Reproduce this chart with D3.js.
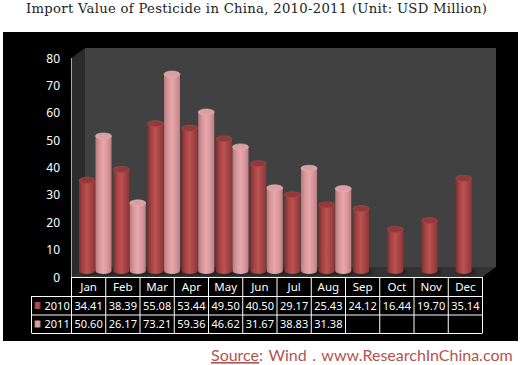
<!DOCTYPE html>
<html lang="en">
<head>
    <meta charset="UTF-8">
    <title>Import Value of Pesticide in China, 2010-2011</title>
    <script src="https://d3js.org/d3.v7.min.js"></script>
    <style>
        body { margin: 0; padding: 0; background: #fff; }
        svg { display: block; }
    </style>
</head>
<body>
    <script>
        // Data
        var months = ["Jan", "Feb", "Mar", "Apr", "May", "Jun", "Jul", "Aug", "Sep", "Oct", "Nov", "Dec"];
        var years = ["2010", "2011"];
        var values2010 = [34.41, 38.39, 55.08, 53.44, 49.50, 40.50, 29.17, 25.43, 24.12, 16.44, 19.70, 35.14];
        var values2011 = [50.60, 26.17, 73.21, 59.36, 46.62, 31.67, 38.83, 31.38, null, null, null, null];
        var yTicks = [0, 10, 20, 30, 40, 50, 60, 70, 80];

        var width = 521, height = 365;
        var tableFont = "'Noto Sans', sans-serif";

        var svg = d3.select("body").append("svg")
            .attr("width", width)
            .attr("height", height);

        // Plot frame: front edge of the 3D box, depth offset goes up and right
        var plotLeft = 71.5, plotRight = 482.5, plotTop = 58, plotBottom = 277;
        var depthX = 13.5, depthY = 10;
        var rowY = [277, 296, 314.5, 333];
        var legendLeft = 31.5;

        var x = d3.scaleBand().domain(months).range([plotLeft, plotRight]);
        var y = d3.scaleLinear().domain([0, 80]).range([plotBottom, plotTop]);
        var inner = d3.scaleBand().domain(years).range([0, 33]);

        // Colours for the cylinders
        var palette = {
            "2010": { stops: ["#7d2f2f", "#a84444", "#bb5252", "#a54343", "#8a3636"], cap: "#93393a", rim: "#b04a4a" },
            "2011": { stops: ["#b57a7c", "#d9979b", "#e6a8ac", "#d9979b", "#b98084"], cap: "#d9a0a3", rim: "#e8b4b6" }
        };

        var defs = svg.append("defs");
        years.forEach(function(yr) {
            var g = defs.append("linearGradient").attr("id", "bar" + yr);
            palette[yr].stops.forEach(function(c, i) {
                g.append("stop").attr("offset", (i * 25) + "%").attr("stop-color", c);
            });
        });
        var shadow = defs.append("filter").attr("id", "blur").attr("x", "-30%").attr("width", "160%");
        shadow.append("feGaussianBlur").attr("stdDeviation", 1.5);

        // Title
        svg.append("text")
            .attr("x", 256.5).attr("y", 13)
            .attr("text-anchor", "middle")
            .attr("font-family", "'DejaVu Serif', serif")
            .attr("font-size", 13.2)
            .attr("textLength", 461)
            .attr("fill", "#222")
            .text("Import Value of Pesticide in China, 2010-2011 (Unit: USD Million)");

        // Black background
        svg.append("rect").attr("x", 3).attr("y", 32).attr("width", 515).attr("height", 309).attr("fill", "#000");

        // Back wall, side wall and floor
        svg.append("rect")
            .attr("x", plotLeft + depthX).attr("y", plotTop - depthY)
            .attr("width", plotRight - plotLeft).attr("height", plotBottom - plotTop)
            .attr("fill", "#414141");
        svg.append("path")
            .attr("d", d3.line()([[plotLeft, plotTop], [plotLeft + depthX, plotTop - depthY], [plotLeft + depthX, plotBottom - depthY], [plotLeft, plotBottom]]))
            .attr("fill", "#2b2b2b");
        svg.append("path")
            .attr("d", d3.line()([[plotLeft, plotBottom], [plotLeft + depthX, plotBottom - depthY], [plotRight + depthX, plotBottom - depthY], [plotRight, plotBottom]]))
            .attr("fill", "#333333");

        // Axis line + tick labels
        svg.append("line")
            .attr("x1", plotLeft).attr("x2", plotLeft).attr("y1", plotTop).attr("y2", plotBottom)
            .attr("stroke", "#a8a8a8").attr("stroke-width", 1);

        svg.selectAll(".ytick").data(yTicks).join("text")
            .attr("class", "ytick")
            .attr("x", 60).attr("y", function(d) { return y(d) + 4.5; })
            .attr("text-anchor", "end")
            .attr("font-family", tableFont)
            .attr("font-size", 12)
            .attr("fill", "#fff")
            .text(function(d) { return d; });

        // Cylinders
        var rx = 8, ry = 3;
        var bars = [];
        months.forEach(function(m, i) {
            bars.push({ month: m, year: "2010", value: values2010[i] });
            if (values2011[i] !== null) bars.push({ month: m, year: "2011", value: values2011[i] });
        });
        function barX(d) { return x(d.month) + 7.5 + inner(d.year) + rx; }
        var baseTop = -2.5, baseBottom = -6;

        var barG = svg.selectAll(".bar").data(bars).join("g").attr("class", "bar");
        barG.append("ellipse")
            .attr("cx", function(d) { return barX(d) + 3; })
            .attr("cy", plotBottom + baseBottom + 1)
            .attr("rx", rx + 1).attr("ry", ry)
            .attr("fill", "#1d1d1d")
            .attr("filter", "url(#blur)");
        barG.append("path")
            .attr("d", function(d) {
                var cx = barX(d), t = y(d.value) + baseTop, b = plotBottom + baseBottom;
                return "M" + (cx - rx) + "," + t + "L" + (cx - rx) + "," + b +
                    "A" + rx + "," + ry + " 0 0 0 " + (cx + rx) + "," + b +
                    "L" + (cx + rx) + "," + t + "Z";
            })
            .attr("fill", function(d) { return "url(#bar" + d.year + ")"; });
        barG.append("ellipse")
            .attr("cx", barX)
            .attr("cy", function(d) { return y(d.value) + baseTop; })
            .attr("rx", rx).attr("ry", ry)
            .attr("fill", function(d) { return palette[d.year].cap; })
            .attr("stroke", function(d) { return palette[d.year].rim; })
            .attr("stroke-width", 0.6);

        // Data table below the chart
        var grid = svg.append("g").attr("stroke", "#fff").attr("stroke-width", 1);
        rowY.forEach(function(ry2, i) {
            grid.append("line")
                .attr("x1", i === 0 ? plotLeft : legendLeft).attr("x2", plotRight)
                .attr("y1", ry2 + 0.5).attr("y2", ry2 + 0.5);
        });
        grid.append("line")
            .attr("x1", legendLeft).attr("x2", legendLeft)
            .attr("y1", rowY[1]).attr("y2", rowY[3]);
        months.concat(["end"]).forEach(function(m) {
            var xp = m === "end" ? plotRight : x(m);
            grid.append("line").attr("x1", xp).attr("x2", xp).attr("y1", rowY[0]).attr("y2", rowY[3]);
        });

        svg.selectAll(".month").data(months).join("text")
            .attr("class", "month")
            .attr("x", function(d) { return x(d) + x.bandwidth() / 2; })
            .attr("y", rowY[0] + 14)
            .attr("text-anchor", "middle")
            .attr("font-family", tableFont).attr("font-size", 11.5)
            .attr("fill", "#fff")
            .text(function(d) { return d; });

        [values2010, values2011].forEach(function(vals, r) {
            svg.selectAll(".cell" + r).data(vals).join("text")
                .attr("class", "cell" + r)
                .attr("x", function(d, i) { return x(months[i]) + x.bandwidth() / 2; })
                .attr("y", rowY[r + 1] + 13.5)
                .attr("text-anchor", "middle")
                .attr("font-family", tableFont).attr("font-size", 11)
                .attr("fill", "#fff")
                .text(function(d) { return d === null ? "" : d.toFixed(2); });
        });

        // Legend keys inside the table
        years.forEach(function(yr, r) {
            svg.append("rect")
                .attr("x", 34.5).attr("y", rowY[r + 1] + 6)
                .attr("width", 6).attr("height", 7)
                .attr("fill", "url(#bar" + yr + ")");
            svg.append("text")
                .attr("x", 44.5).attr("y", rowY[r + 1] + 13.5)
                .attr("font-family", tableFont).attr("font-size", 11)
                .attr("fill", "#fff")
                .text(yr);
        });

        // Source line
        var source = svg.append("text")
            .attr("x", 211).attr("y", 361)
            .attr("font-family", "Lato, sans-serif")
            .attr("font-size", 16)
            .attr("word-spacing", 1.5)
            .attr("fill", "#b5544e");
        source.append("tspan").attr("text-decoration", "underline").text("Source");
        source.append("tspan").text(":  Wind .  www.ResearchInChina.com");
    </script>
</body>
</html>
